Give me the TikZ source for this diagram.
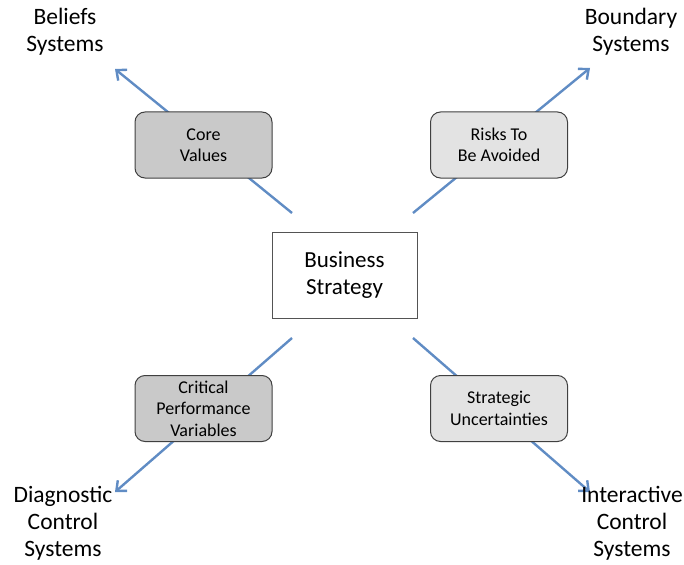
\documentclass[tikz,border=0pt]{standalone}
\usepackage{fontspec}
\setmainfont{Carlito}
\usetikzlibrary{arrows.meta}
\definecolor{arrowblue}{RGB}{96,140,196}
\definecolor{darkbox}{RGB}{201,201,201}
\definecolor{lightbox}{RGB}{227,227,227}
\definecolor{boxline}{RGB}{64,64,64}
\tikzset{
  conn/.style={arrowblue, line width=2.4pt, -{Straight Barb[length=8pt,width=14pt,line width=2.4pt]}},
  lever/.style={draw=boxline, line width=1pt, rounded corners=10pt, minimum width=137pt, minimum height=66pt, align=center, font=\fontsize{18}{21.5}\selectfont, inner sep=1pt},
  darklever/.style={lever, fill=darkbox},
  lightlever/.style={lever, fill=lightbox},
  corner/.style={align=center, font=\fontsize{23.5}{27}\selectfont, inner sep=0pt},
  core/.style={draw=boxline!90, line width=1pt, fill=white, minimum width=145pt, minimum height=86pt, align=center, font=\fontsize{23}{27}\selectfont}
}
\begin{document}
\begin{tikzpicture}[x=1pt,y=-1pt]
\useasboundingbox (0,0) rectangle (684,564);
% arrow ends
\coordinate (sUL) at (292,213);
\coordinate (sUR) at (413,213);
\coordinate (sLL) at (292,338);
\coordinate (sLR) at (413,338);
\coordinate (eUL) at (115,69);
\coordinate (eUR) at (590,68);
\coordinate (eLL) at (115,492);
\coordinate (eLR) at (590,492);
\draw[conn] (sUL) -- (eUL);
\draw[conn] (sUR) -- (eUR);
\draw[conn] (sLL) -- (eLL);
\draw[conn] (sLR) -- (eLR);
% boxes
\node[core] (bs) at (344.5,275) {Business\\Strategy};
\node[darklever] (cv) at (203.5,145) {Core\\Values};
\node[lightlever] (ra) at (499,145) {Risks To\\Be Avoided};
\node[darklever] (cp) at (203.5,408.5) {Critical\\Performance\\Variables};
\node[lightlever] (su) at (499,408.5) {Strategic\\Uncertainties};
% corner labels
\node[corner] (bel) at (65,32) {Beliefs\\Systems};
\node[corner] (bou) at (631,32) {Boundary\\Systems};
\node[corner] (dia) at (63,523.5) {Diagnostic\\Control\\Systems};
\node[corner] (int) at (632,523.5) {Interactive\\Control\\Systems};
\end{tikzpicture}
\end{document}
